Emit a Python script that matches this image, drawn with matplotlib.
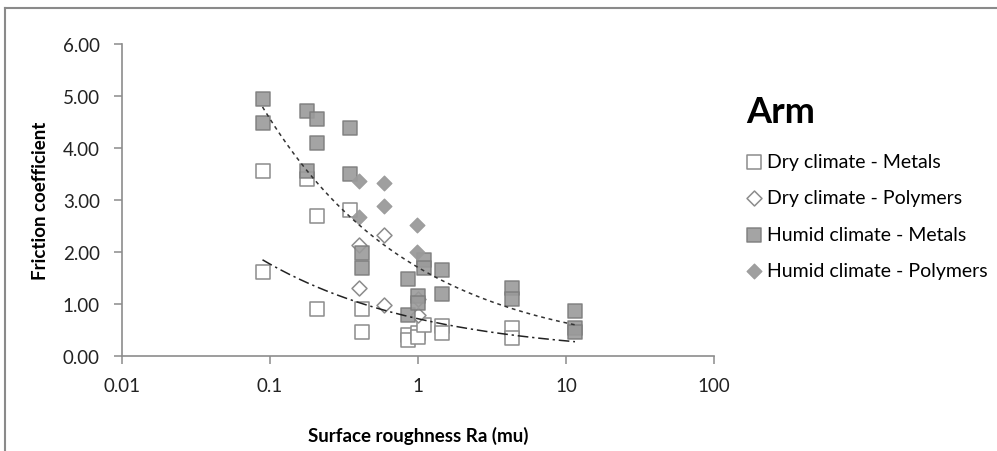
"""
Friction coefficient vs. surface roughness (arm), dry and humid climate.
"""
import matplotlib
matplotlib.use("Agg")
import matplotlib.pyplot as plt
from matplotlib.lines import Line2D
import numpy as np

plt.rcParams["font.family"] = ["Lato", "DejaVu Sans"]

# Ra (mu) / friction coefficient
dry_metals_x = [0.089, 0.089, 0.179, 0.209, 0.209, 0.349, 0.418, 0.418, 0.852, 0.852,
                1.005, 1.005, 1.103, 1.459, 1.459, 4.30, 4.30]
dry_metals_y = [3.55, 1.61, 3.41, 2.69, 0.90, 2.81, 0.90, 0.46, 0.41, 0.31,
                0.45, 0.36, 0.60, 0.57, 0.45, 0.535, 0.34]

dry_poly_x = [0.399, 0.399, 0.589, 0.589, 1.005, 1.005]
dry_poly_y = [2.14, 1.30, 2.33, 0.98, 1.10, 0.78]

humid_metals_x = [0.089, 0.089, 0.179, 0.209, 0.209, 0.349, 0.179, 0.349, 0.418, 0.418,
                  0.852, 0.852, 1.005, 1.005, 1.103, 1.103, 1.459, 1.459, 4.30, 4.30,
                  11.5, 11.5, 11.5]
humid_metals_y = [4.94, 4.475, 4.72, 4.56, 4.09, 4.385, 3.55, 3.50, 1.99, 1.70,
                  1.49, 0.79, 1.16, 1.015, 1.84, 1.69, 1.66, 1.19, 1.30, 1.10,
                  0.87, 0.535, 0.47]

humid_poly_x = [0.399, 0.399, 0.589, 0.589, 0.989, 0.989]
humid_poly_y = [3.36, 2.67, 3.32, 2.88, 2.525, 2.00]

# power trendlines (Excel), end points
humid_trend_x = [0.089, 11.5]
humid_trend_y = [4.79, 0.60]
dry_trend_x = [0.089, 11.5]
dry_trend_y = [1.85, 0.275]

x_ticks = [0.01, 0.1, 1, 10, 100]
x_tick_labels = ["0.01", "0.1", "1", "10", "100"]
y_ticks = [0, 1, 2, 3, 4, 5, 6]

GRAY = "#9a9a9a"
EDGE = "#7c7c7c"
AXIS = "#8c8c8c"


def power_curve(xe, ye, n=200):
    """Power trendline y = a * x^b passing through the two end points."""
    b, log_a = np.polyfit(np.log(xe), np.log(ye), 1)
    xs = np.geomspace(xe[0], xe[-1], n)
    return xs, np.exp(log_a) * xs ** b


fig = plt.figure(figsize=(9.97, 4.52), dpi=100)
ax = fig.add_axes([122 / 997, 1 - 357 / 452, 592 / 997, 312 / 452])

ax.scatter(dry_metals_x, dry_metals_y, marker="s", s=110, facecolor="white",
           edgecolor=AXIS, linewidth=1.1, label="Dry climate - Metals", zorder=3)
ax.scatter(dry_poly_x, dry_poly_y, marker="D", s=58, facecolor="white",
           edgecolor=AXIS, linewidth=1.1, label="Dry climate - Polymers", zorder=3)
ax.scatter(humid_metals_x, humid_metals_y, marker="s", s=110, facecolor=GRAY,
           edgecolor=EDGE, linewidth=1.1, alpha=0.9, label="Humid climate - Metals", zorder=4)
ax.scatter(humid_poly_x, humid_poly_y, marker="D", s=58, facecolor=GRAY,
           edgecolor=GRAY, linewidth=0.8, alpha=0.95, label="Humid climate - Polymers", zorder=4)

xs, ys = power_curve(humid_trend_x, humid_trend_y)
ax.plot(xs, ys, color="#333333", linewidth=1.1, linestyle=(0, (2.5, 2.5)), zorder=5)
xs, ys = power_curve(dry_trend_x, dry_trend_y)
ax.plot(xs, ys, color="#222222", linewidth=1.1, linestyle=(0, (7, 2.5, 1.5, 2.5)), zorder=5)

ax.set_xscale("log")
ax.set_xlim(0.01, 100)
ax.set_ylim(0, 6)
ax.set_xticks(x_ticks)
ax.set_xticklabels(x_tick_labels)
ax.xaxis.set_minor_locator(matplotlib.ticker.NullLocator())
ax.set_yticks(y_ticks)
ax.set_yticklabels([f"{v:.2f}" for v in y_ticks])

for side in ("top", "right"):
    ax.spines[side].set_visible(False)
for side in ("left", "bottom"):
    ax.spines[side].set_color(AXIS)
    ax.spines[side].set_linewidth(1.2)
ax.tick_params(axis="both", colors=AXIS, labelcolor="#222222", labelsize=13.5,
               length=6, width=1.1, direction="out")
ax.tick_params(axis="y", pad=10)
ax.tick_params(axis="x", pad=9)

ax.set_xlabel("Surface roughness Ra (mu)", fontsize=13.5, fontweight="bold", labelpad=23)
ax.set_ylabel("Friction coefficient", fontsize=13.5, fontweight="bold", labelpad=10)

leg = ax.legend(loc="upper left", bbox_to_anchor=(746 / 997, 1 - 96 / 452),
                bbox_transform=fig.transFigure, frameon=False, fontsize=14,
                title="Arm", title_fontproperties={"size": 26, "weight": "bold"},
                alignment="left", handlelength=0.8, handletextpad=0.3,
                labelspacing=1.0, borderaxespad=0, borderpad=0)
leg._legend_box.sep = 18

# outer chart border (cropped at right and bottom)
fig.add_artist(Line2D([5 / 997, 5 / 997], [0, 1 - 9 / 452], transform=fig.transFigure,
                      color="#8a8a8a", linewidth=1.5))
fig.add_artist(Line2D([5 / 997, 1], [1 - 9 / 452, 1 - 9 / 452], transform=fig.transFigure,
                      color="#8a8a8a", linewidth=1.5))

fig.savefig("out.png", dpi=100)
